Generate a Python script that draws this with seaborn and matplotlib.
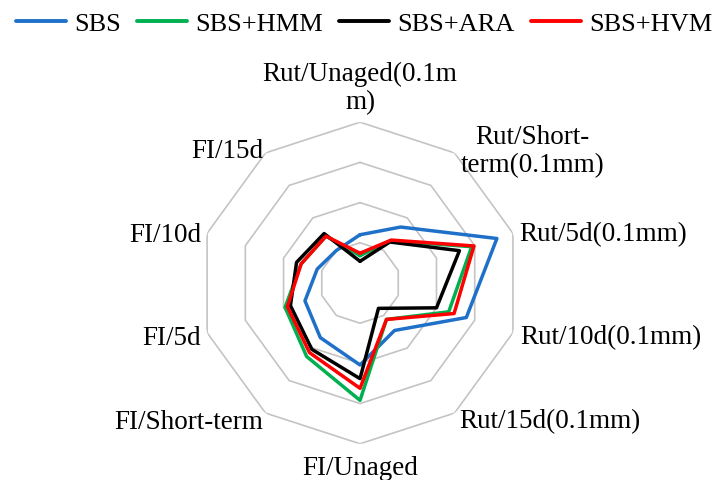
import numpy as np
import pandas as pd
import seaborn as sns
import matplotlib
matplotlib.use("Agg")
import matplotlib.pyplot as plt

# Radar axes, clockwise from the top
categories = [
    "Rut/Unaged(0.1m\nm)",
    "Rut/Short-\nterm(0.1mm)",
    "Rut/5d(0.1mm)",
    "Rut/10d(0.1mm)",
    "Rut/15d(0.1mm)",
    "FI/Unaged",
    "FI/Short-term",
    "FI/5d",
    "FI/10d",
    "FI/15d",
]

series_names = ["SBS", "SBS+HMM", "SBS+ARA", "SBS+HVM"]
sbs     = [6.0, 8.6, 17.9, 13.9, 7.3, 10.2, 8.4, 7.2, 5.6, 5.0]
sbs_hmm = [3.4, 6.5, 14.6, 11.6, 5.6, 14.6, 11.3, 9.8, 7.7, 7.2]
sbs_ara = [2.7, 6.3, 13.0, 10.0, 3.9, 11.9, 10.2, 9.1, 8.3, 7.6]
sbs_hvm = [3.7, 6.6, 14.9, 12.3, 5.6, 13.1, 10.7, 9.5, 7.7, 7.2]

ring_levels = [5, 10, 15, 20]
r_max = 20

colors = {"SBS": "#1F70C8", "SBS+HMM": "#00B050", "SBS+ARA": "#000000", "SBS+HVM": "#FF0000"}

sns.set_theme(style="white")
plt.rcParams["font.family"] = ["Liberation Serif", "DejaVu Serif"]
plt.rcParams["text.color"] = "black"

n = len(categories)
theta = np.linspace(0, 2 * np.pi, n, endpoint=False)
theta_closed = np.append(theta, 2 * np.pi)

rows = []
for name, vals in zip(series_names, [sbs, sbs_hmm, sbs_ara, sbs_hvm]):
    closed = list(vals) + [vals[0]]
    for t, v in zip(theta_closed, closed):
        rows.append({"theta": t, "value": v, "series": name})
df = pd.DataFrame(rows)

fig = plt.figure(figsize=(7.12, 4.81), dpi=100)
ax = fig.add_axes([0.2798, 0.0753, 0.4517, 0.6686], projection="polar")
ax.set_theta_offset(np.pi / 2)
ax.set_theta_direction(-1)
ax.set_ylim(0, r_max)
ax.grid(False)
ax.spines["polar"].set_visible(False)
ax.set_xticks([])
ax.set_yticks([])
ax.set_facecolor("white")

# Decagonal grid rings
for lvl in ring_levels:
    ax.plot(theta_closed, [lvl] * len(theta_closed), color="#C4C4C4", lw=1.2, zorder=1)

sns.lineplot(data=df, x="theta", y="value", hue="series", hue_order=series_names,
             palette=colors, sort=False, estimator=None, lw=2.5, legend=False, ax=ax,
             zorder=3)
ax.set_xlabel("")
ax.set_ylabel("")

# Category labels around the chart
label_pos = [
    (0, 24.3, "center", "center"),
    (37.3, 20.7, "left", "center"),
    (72.8, 20.8, "left", "center"),
    (108.6, 21.0, "left", "center"),
    (144.3, 21.1, "left", "center"),
    (180, 22.9, "center", "center"),
    (215.1, 21.0, "right", "center"),
    (251.2, 20.9, "right", "center"),
    (287.1, 20.7, "right", "center"),
    (323.7, 20.4, "right", "center"),
]
for lab, (ang, r, ha, va) in zip(categories, label_pos):
    ax.text(np.deg2rad(ang), r, lab, ha=ha, va=va, multialignment="center",
            fontsize=19.5, color="black", linespacing=1.2)

handles = [plt.Line2D([], [], color=colors[s], lw=2.8) for s in series_names]
leg = fig.legend(handles, series_names, loc="center", bbox_to_anchor=(364 / 712, 1 - 24 / 481),
                 ncol=4, frameon=False, fontsize=19, handlelength=1.9, handletextpad=0.3,
                 columnspacing=0.62, borderaxespad=0, borderpad=0)
for t in leg.get_texts():
    t.set_color("black")

fig.savefig("out.png", dpi=100, facecolor="white")
